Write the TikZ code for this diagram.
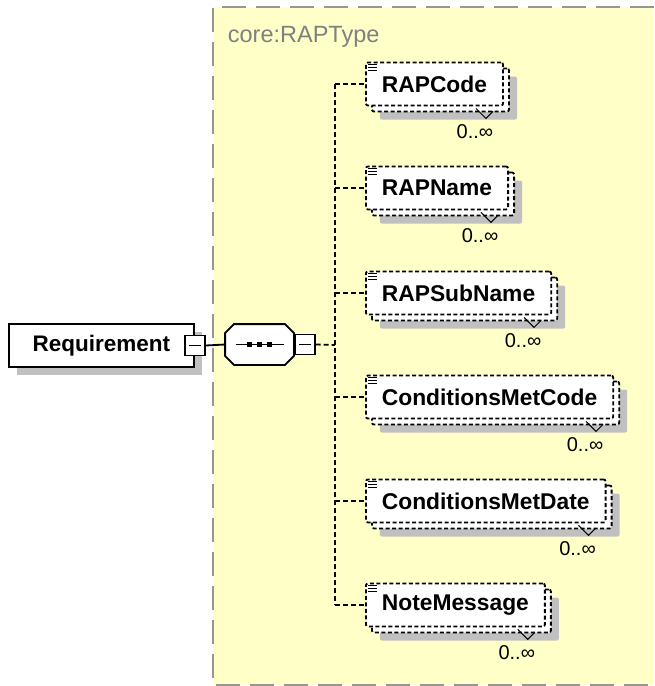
\documentclass[tikz,border=0pt]{standalone}
\usepackage{fontspec}
\setmainfont{Liberation Sans}
\usetikzlibrary{positioning,shadows,calc}
\definecolor{typebg}{RGB}{255,255,200}
\definecolor{typeborder}{RGB}{150,150,150}
\definecolor{shadowgray}{RGB}{192,192,192}
\definecolor{typetext}{RGB}{128,128,128}

\begin{document}
\begin{tikzpicture}[
        x=1pt, y=-1pt,
        line width=1.8pt,
        castshadow/.style={drop shadow={shadow xshift=8pt, shadow yshift=-8pt,
            opacity=1, fill=shadowgray}},
        rootbox/.style={draw, fill=white, castshadow, minimum width=185pt,
            minimum height=43pt, font=\fontsize{22.5}{27}\selectfont\bfseries},
        expander/.style={draw, fill=white, minimum size=20pt, inner sep=0pt,
            path picture={\draw[line width=1.8pt]
                ([xshift=-6pt]path picture bounding box.center) --
                ([xshift=6pt]path picture bounding box.center);}},
        seqbox/.style={minimum width=67pt, minimum height=39pt, inner sep=0pt},
        elemfront/.style={draw, fill=white, dash pattern=on 4pt off 2.5pt,
            anchor=west, minimum height=43pt, inner xsep=16pt,
            rounded corners=2pt, font=\fontsize{22.8}{27}\selectfont\bfseries},
        elemback/.style={elemfront, castshadow},
        conn/.style={dash pattern=on 5pt off 3pt},
        multi/.style={font=\fontsize{20}{24}\selectfont, inner sep=0pt},
    ]
    \useasboundingbox (0,0) rectangle (654,686);

    % complex type area
    \fill[typebg] (213,7) rectangle (654,685);
    \draw[typeborder, line width=2pt, dash pattern=on 24pt off 10pt]
        (654,7) -- (213,7) -- (213,685) -- (654,685);
    \node[anchor=base west, text=typetext, inner sep=0pt,
        font=\fontsize{23.5}{28}\selectfont] (typename) at (227,42) {core:RAPType};

    % root element and sequence
    \node[rootbox, anchor=west] (requirement) at (8,345.5) {Requirement};
    \node[expander] (reqexp) at (requirement.east) {};
    \node[seqbox] (seq) at (259.5,344.5) {};
    \foreach \sh/\fc/\dc in {8/shadowgray/shadowgray, 0/white/black}
        \filldraw[fill=\fc, draw=\dc, shift={(\sh,\sh)}]
            ($(seq.north west)+(9,0)$) -- ($(seq.north east)+(-9,0)$)
            -- ($(seq.north east)+(0,9)$) -- ($(seq.south east)+(0,-9)$)
            -- ($(seq.south east)+(-9,0)$) -- ($(seq.south west)+(9,0)$)
            -- ($(seq.south west)+(0,-9)$) -- ($(seq.north west)+(0,9)$) -- cycle;
    \node[expander, anchor=west] (seqexp) at (seq.east) {};
    \draw ($(seq.center)+(-24,0)$) -- ($(seq.center)+(24,0)$);
    \foreach \dx in {-10,0,10}
        \fill ($(seq.center)+(\dx-2.5,-2.5)$) rectangle ++(5,5);
    \draw (reqexp.east) -- (seq.west);

    % child elements
    \foreach \nm/\yy/\txt in {rapcode/84/RAPCode, rapname/188/RAPName,
            rapsubname/293/RAPSubName, condcode/397/ConditionsMetCode,
            conddate/501/ConditionsMetDate, notemsg/605/NoteMessage} {
        \node[elemback] (\nm back) at (371,{\yy+6}) {\phantom{\txt}};
        \node[elemfront] (\nm) at (365,\yy) {\txt};
        \foreach \k in {0,1,2}
            \draw[line width=1pt] ($(\nm.north west)+(3,{3+3*\k})$) -- ++(9,0);
        \draw[line width=1pt] ($(\nm.south east)+(-28,2)$) -- ++(10,10) -- ++(7,-7);
        \node[multi] (\nm mult) at ($(\nm.south east)+(-29,25)$) {0..∞};
    }

    % connectors
    \coordinate (spine) at (335,345);
    \draw[conn] (seqexp.east) -- (spine);
    \draw[conn] (spine |- rapcode.west) -- (spine |- notemsg.west);
    \foreach \nm in {rapcode, rapname, rapsubname, condcode, conddate, notemsg}
        \draw[conn] (spine |- \nm.west) -- (\nm.west);
\end{tikzpicture}
\end{document}
